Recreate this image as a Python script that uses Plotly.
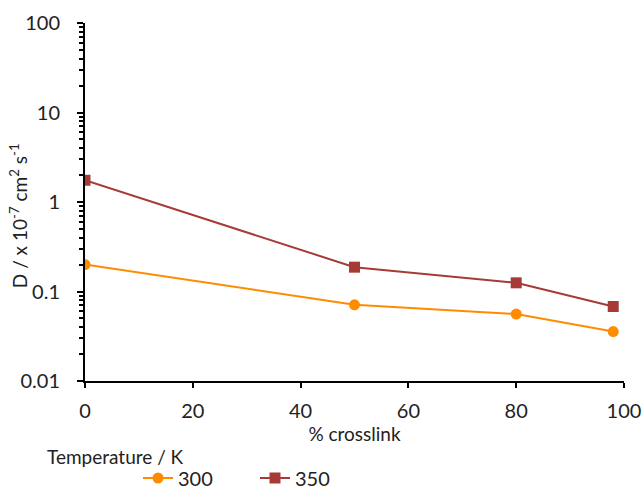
import plotly.graph_objects as go

crosslink = [0, 50, 80, 98]
d_300 = [0.20, 0.071, 0.056, 0.0357]
d_350 = [1.75, 0.187, 0.125, 0.068]
x_ticks = [0, 20, 40, 60, 80, 100]
y_ticks = [0.01, 0.1, 1, 10, 100]
y_ticktext = ["0.01", "0.1", "1", "10", "100"]

FONT = "Lato"
ORANGE = "#FF8C00"
RED = "#A63B35"

# plot area in pixels
L, R, T, B = 85, 624, 23, 380.7
PW, PH = R - L, B - T

fig = go.Figure()
fig.add_trace(go.Scatter(x=crosslink, y=d_300, name="300", mode="lines+markers",
                         line=dict(color=ORANGE, width=2),
                         marker=dict(symbol="circle", size=11, color=ORANGE)))
fig.add_trace(go.Scatter(x=crosslink, y=d_350, name="350", mode="lines+markers",
                         line=dict(color=RED, width=2),
                         marker=dict(symbol="square", size=11, color=RED)))

fig.update_layout(
    width=644, height=490,
    margin=dict(l=L, r=644 - R, t=T, b=490 - B),
    paper_bgcolor="white", plot_bgcolor="white",
    font=dict(family=FONT, size=20, color="#222"),
    showlegend=True,
    legend=dict(orientation="h", xref="container", yref="container",
                x=138 / 644, xanchor="left", y=1 - 478 / 490, yanchor="middle",
                font=dict(size=20), itemwidth=30, entrywidth=72, tracegroupgap=0),
    annotations=[
        dict(text="Temperature / K", xref="paper", yref="paper",
             x=(45 - L) / PW, y=-(456 - B) / PH, xanchor="left", yanchor="middle",
             showarrow=False, font=dict(size=19)),
        dict(text="D / x 10<sup>-7</sup> cm<sup>2</sup> s<sup>-1</sup>", xref="paper", yref="paper",
             x=(18 - L) / PW, y=(B - 216) / PH, xanchor="center", yanchor="middle",
             textangle=-90, showarrow=False, font=dict(size=19)),
    ],
)
fig.update_xaxes(range=[0, 100], tickvals=x_ticks, automargin=False,
                 showgrid=False, zeroline=False, showline=True, linecolor="black",
                 linewidth=2, ticks="outside", ticklen=5, tickcolor="black", tickwidth=2,
                 ticklabelstandoff=6,
                 title=dict(text="% crosslink", standoff=3, font=dict(size=19)))
fig.update_yaxes(type="log", range=[-2, 2], tickvals=y_ticks, ticktext=y_ticktext,
                 automargin=False,
                 showgrid=False, zeroline=False, showline=True, linecolor="black",
                 linewidth=2, ticks="outside", ticklen=6, tickcolor="black", tickwidth=2,
                 ticklabelstandoff=13,
                 minor=dict(ticks="outside", ticklen=4, tickcolor="black", tickwidth=1.5,
                            dtick="D1", showgrid=False))
fig.write_html("out.html")
